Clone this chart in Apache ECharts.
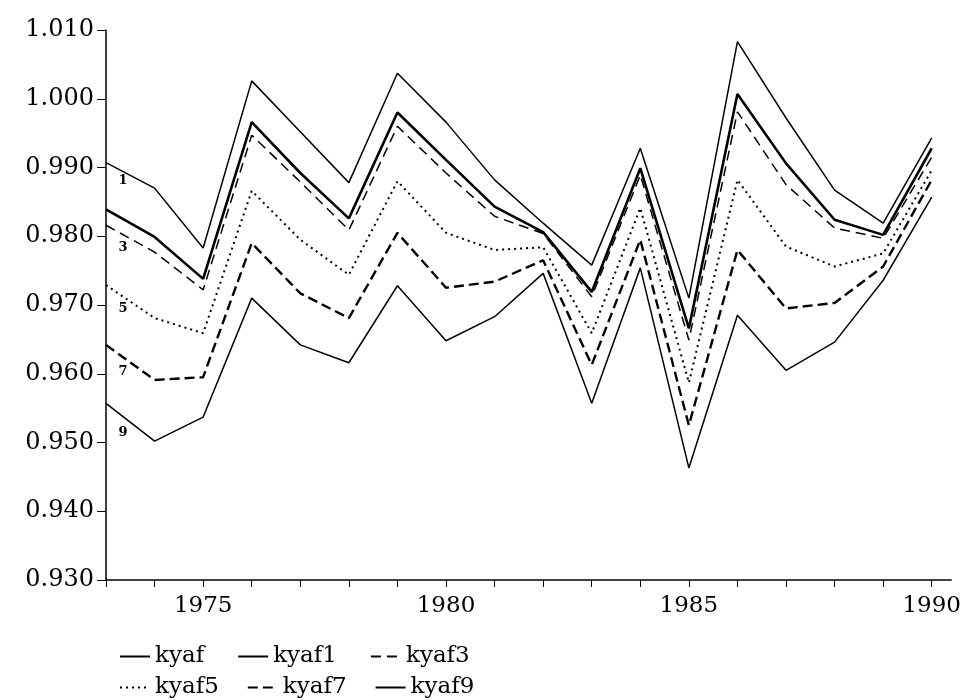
<!DOCTYPE html>
<html>
<head>
<meta charset="utf-8">
<script src="https://cdn.jsdelivr.net/npm/echarts@6/dist/echarts.min.js"></script>
<style>
  html, body { margin: 0; padding: 0; background: #fff; }
  #chart { width: 964px; height: 700px; }
</style>
</head>
<body>
<div id="chart"></div>
<script>
  const years = [1973, 1974, 1975, 1976, 1977, 1978, 1979, 1980, 1981, 1982, 1983, 1984, 1985, 1986, 1987, 1988, 1989, 1990]
  const yearLabels = [1975, 1980, 1985, 1990]

  const kyaf  = [0.9839, 0.9799, 0.9738, 0.9966, 0.9892, 0.9826, 0.9980, 0.9911, 0.9843, 0.9806, 0.9719, 0.9899, 0.9666, 1.0007, 0.9906, 0.9824, 0.9802, 0.9928]
  const kyaf1 = [0.9907, 0.9870, 0.9783, 1.0026, 0.9952, 0.9878, 1.0037, 0.9966, 0.9882, 0.9819, 0.9758, 0.9928, 0.9710, 1.0083, 0.9972, 0.9867, 0.9819, 0.9943]
  const kyaf3 = [0.9816, 0.9777, 0.9722, 0.9947, 0.9879, 0.9809, 0.9960, 0.9892, 0.9829, 0.9804, 0.9712, 0.9889, 0.9649, 0.9981, 0.9875, 0.9812, 0.9797, 0.9915]
  const kyaf5 = [0.9729, 0.9681, 0.9659, 0.9866, 0.9795, 0.9744, 0.9880, 0.9805, 0.9780, 0.9784, 0.9659, 0.9841, 0.9587, 0.9882, 0.9785, 0.9756, 0.9775, 0.9896]
  const kyaf7 = [0.9642, 0.9591, 0.9595, 0.9790, 0.9717, 0.9681, 0.9805, 0.9725, 0.9734, 0.9765, 0.9613, 0.9795, 0.9525, 0.9780, 0.9695, 0.9703, 0.9756, 0.9882]
  const kyaf9 = [0.9557, 0.9502, 0.9537, 0.9710, 0.9642, 0.9616, 0.9728, 0.9648, 0.9683, 0.9746, 0.9557, 0.9754, 0.9463, 0.9685, 0.9605, 0.9646, 0.9736, 0.9857]

  const font = 'DejaVu Serif'
  const pairs = (vals) => years.map((y, i) => [y, vals[i]])

  // little curve numbers at the left end of the lines
  const tag = (text, vals, dy) => ({
    symbol: 'circle',
    symbolSize: 1,
    silent: true,
    itemStyle: { color: 'rgba(0,0,0,0)' },
    label: {
      show: true,
      position: 'inside',
      formatter: text,
      color: '#000',
      fontFamily: font,
      fontWeight: 'bold',
      fontSize: 13,
      offset: [17, dy]
    },
    data: [{ coord: [years[0], vals[0]] }]
  })

  const line = (name, vals, width, dash, label, dy) => {
    const s = {
      name: name,
      type: 'line',
      data: pairs(vals),
      symbol: 'none',
      color: '#000',
      lineStyle: { color: '#000', width: width, type: dash }
    }
    if (label) s.markPoint = tag(label, vals, dy)
    return s
  }

  const chart = echarts.init(document.getElementById('chart'))
  const legendText = { color: '#000', fontFamily: font, fontSize: 23 }
  chart.setOption({
    animation: false,
    grid: { left: 106, right: 11, top: 30, bottom: 120 },
    legend: [
      {
        left: 114, top: 640, itemWidth: 30, itemHeight: 14, itemGap: 33,
        textStyle: legendText,
        itemStyle: { opacity: 0 },
        data: ['kyaf', 'kyaf1', 'kyaf3']
      },
      {
        left: 114, top: 671, itemWidth: 30, itemHeight: 14, itemGap: 28,
        textStyle: legendText,
        itemStyle: { opacity: 0 },
        data: ['kyaf5', 'kyaf7', 'kyaf9']
      }
    ],
    xAxis: {
      type: 'value',
      min: 1973,
      max: 1990.4,
      splitLine: { show: false },
      axisLine: { onZero: false, lineStyle: { color: '#000', width: 1.5 } },
      axisTick: { customValues: years, length: 7, lineStyle: { color: '#000' } },
      axisLabel: {
        customValues: yearLabels,
        color: '#000',
        fontFamily: font,
        fontSize: 23,
        margin: 15,
        formatter: (v) => String(v)
      }
    },
    yAxis: {
      type: 'value',
      min: 0.93,
      max: 1.01,
      interval: 0.01,
      splitLine: { show: false },
      axisLine: { show: true, lineStyle: { color: '#000', width: 1.5 } },
      axisTick: { show: true, length: 9, lineStyle: { color: '#000' } },
      axisLabel: {
        color: '#000',
        fontFamily: font,
        fontSize: 24,
        margin: 12,
        formatter: (v) => v.toFixed(3)
      }
    },
    series: [
      line('kyaf', kyaf, 2.6, 'solid'),
      line('kyaf1', kyaf1, 1.5, 'solid', '1', 18),
      line('kyaf3', kyaf3, 1.5, [10, 6], '3', 22),
      line('kyaf5', kyaf5, 2, [2, 4], '5', 24),
      line('kyaf7', kyaf7, 2.4, [10, 5], '7', 27),
      line('kyaf9', kyaf9, 1.5, 'solid', '9', 29)
    ]
  })
</script>
</body>
</html>
